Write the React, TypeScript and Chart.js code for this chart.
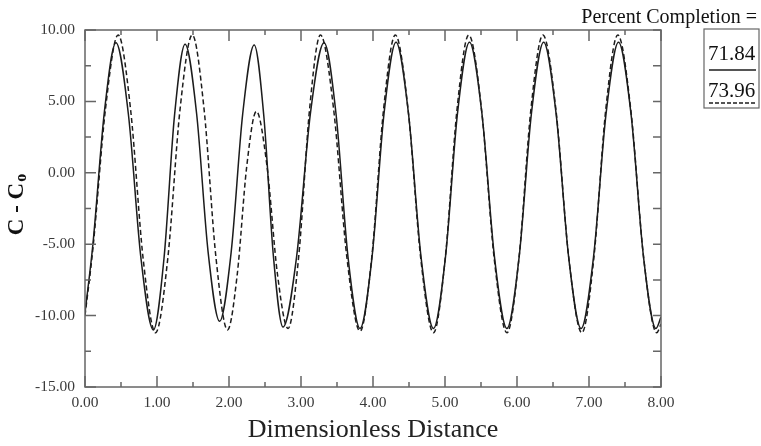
import React, { useEffect, useRef } from 'react';
import { Chart, registerables } from 'chart.js';

Chart.register(...registerables);

// ---- data ----
const solidX = [0, 0.11, 0.27, 0.43, 0.603, 0.777, 0.95, 1.097, 1.243, 1.39, 1.55, 1.71, 1.87, 2.03, 2.19, 2.35, 2.483, 2.617, 2.75, 2.94, 3.13, 3.32, 3.487, 3.653, 3.82, 3.987, 4.153, 4.32, 4.493, 4.667, 4.84, 5.007, 5.173, 5.34, 5.513, 5.687, 5.86, 6.03, 6.2, 6.37, 6.543, 6.717, 6.89, 7.063, 7.237, 7.41, 7.583, 7.757, 7.93, 8.0];
const solidY = [-9.8, -5.0, 4.3, 9.1, 4.08, -5.98, -11.0, -6.0, 4.0, 9.0, 4.15, -5.55, -10.4, -5.56, 4.11, 8.95, 4.01, -5.86, -10.8, -5.83, 4.13, 9.1, 4.1, -5.9, -10.9, -5.89, 4.14, 9.15, 4.14, -5.89, -10.9, -5.89, 4.14, 9.15, 4.14, -5.89, -10.9, -5.89, 4.14, 9.15, 4.14, -5.89, -10.9, -5.89, 4.14, 9.15, 4.14, -5.89, -10.9, -10.1];

const dashedX = [0, 0.11, 0.285, 0.46, 0.633, 0.807, 0.98, 1.15, 1.32, 1.49, 1.653, 1.817, 1.98, 2.113, 2.247, 2.38, 2.527, 2.673, 2.82, 2.97, 3.12, 3.27, 3.453, 3.637, 3.82, 3.983, 4.147, 4.31, 4.487, 4.663, 4.84, 5.003, 5.167, 5.33, 5.507, 5.683, 5.86, 6.027, 6.193, 6.36, 6.54, 6.72, 6.9, 7.067, 7.233, 7.4, 7.58, 7.76, 7.94, 8.0];
const dashedY = [-10.0, -5.3, 4.5, 9.65, 4.44, -5.99, -11.2, -5.99, 4.44, 9.65, 4.49, -5.84, -11.0, -7.18, 0.48, 4.3, 0.5, -7.1, -10.9, -5.76, 4.51, 9.65, 4.46, -5.91, -11.1, -5.91, 4.46, 9.65, 4.44, -5.99, -11.2, -5.99, 4.44, 9.65, 4.44, -5.99, -11.2, -5.99, 4.44, 9.65, 4.44, -5.99, -11.2, -5.99, 4.44, 9.65, 4.44, -5.99, -11.2, -10.6];

const seriesLabels = ['71.84', '73.96'];
const xTicks = [0, 1, 2, 3, 4, 5, 6, 7, 8];
const xMinorTicks = [0.5, 1.5, 2.5, 3.5, 4.5, 5.5, 6.5, 7.5];
const yTicks = [-15, -10, -5, 0, 5, 10];
const yMinorTicks = [-12.5, -7.5, -2.5, 2.5, 7.5];
const xTitle = 'Dimensionless Distance';
const yTitleMain = 'C - C';
const yTitleSub = 'o';
const legendTitle = 'Percent Completion =';

const SERIF = "'Liberation Serif', 'Times New Roman', serif";
const AXIS_COLOR = '#666666';
const LINE_COLOR = '#1c1c1c';

const framePlugin = {
  id: 'frame',
  afterDraw(chart: any) {
    const { ctx, chartArea: a } = chart;
    const xs = chart.scales.x;
    const ys = chart.scales.y;
    ctx.save();
    // frame
    ctx.strokeStyle = AXIS_COLOR;
    ctx.lineWidth = 1.5;
    ctx.strokeRect(a.left, a.top, a.right - a.left, a.bottom - a.top);
    // inward ticks
    ctx.beginPath();
    const seg = (x1: number, y1: number, x2: number, y2: number) => {
      ctx.moveTo(x1, y1);
      ctx.lineTo(x2, y2);
    };
    xTicks.forEach((v) => {
      const p = xs.getPixelForValue(v);
      seg(p, a.bottom, p, a.bottom - 11);
      seg(p, a.top, p, a.top + 11);
    });
    xMinorTicks.forEach((v) => {
      const p = xs.getPixelForValue(v);
      seg(p, a.bottom, p, a.bottom - 5);
      seg(p, a.top, p, a.top + 5);
    });
    yTicks.forEach((v) => {
      const p = ys.getPixelForValue(v);
      seg(a.left, p, a.left + 11, p);
      seg(a.right, p, a.right - 8, p);
    });
    yMinorTicks.forEach((v) => {
      const p = ys.getPixelForValue(v);
      seg(a.left, p, a.left + 6, p);
      seg(a.right, p, a.right - 8, p);
    });
    ctx.stroke();

    // y axis title (rotated, with subscript)
    const cy = (a.top + a.bottom) / 2 - 4;
    ctx.save();
    ctx.translate(23, cy);
    ctx.rotate(-Math.PI / 2);
    ctx.fillStyle = '#111';
    ctx.textBaseline = 'alphabetic';
    ctx.textAlign = 'left';
    ctx.font = `bold 23px ${SERIF}`;
    const wMain = ctx.measureText(yTitleMain).width;
    ctx.font = `bold 16px ${SERIF}`;
    const wSub = ctx.measureText(yTitleSub).width;
    const start = -(wMain + wSub + 1) / 2;
    ctx.font = `bold 23px ${SERIF}`;
    ctx.fillText(yTitleMain, start, 0);
    ctx.font = `bold 16px ${SERIF}`;
    ctx.fillText(yTitleSub, start + wMain + 1, 3);
    ctx.restore();

    // legend
    ctx.fillStyle = '#111';
    ctx.font = `20px ${SERIF}`;
    ctx.textAlign = 'right';
    ctx.textBaseline = 'alphabetic';
    ctx.fillText(legendTitle, 757, 23);

    const bx = 704, by = 29, bw = 55, bh = 79;
    ctx.strokeStyle = AXIS_COLOR;
    ctx.lineWidth = 1.2;
    ctx.strokeRect(bx, by, bw, bh);
    const ds = chart.data.datasets;
    const rows = [
      { textY: 60, lineY: 70 },
      { textY: 97, lineY: 103 },
    ];
    ds.forEach((d: any, i: number) => {
      const r = rows[i];
      ctx.fillStyle = '#111';
      ctx.font = `21px ${SERIF}`;
      ctx.textAlign = 'center';
      ctx.fillText(d.label, bx + bw / 2, r.textY);
      ctx.beginPath();
      ctx.strokeStyle = d.borderColor;
      ctx.lineWidth = 1.4;
      ctx.setLineDash(i === 1 ? [4, 2] : []);
      ctx.moveTo(bx + 5, r.lineY);
      ctx.lineTo(bx + bw - 3, r.lineY);
      ctx.stroke();
      ctx.setLineDash([]);
    });
    ctx.restore();
  },
};

export default function App() {
  const ref = useRef<HTMLCanvasElement | null>(null);

  useEffect(() => {
    document.body.style.margin = '0';
    const canvas = ref.current;
    if (!canvas) return;
    const toPoints = (xs: number[], ys: number[]) => xs.map((x, i) => ({ x, y: ys[i] }));
    const chart = new Chart(canvas, {
      type: 'line',
      data: {
        datasets: [
          {
            label: seriesLabels[0],
            data: toPoints(solidX, solidY),
            borderColor: LINE_COLOR,
            borderWidth: 1.5,
            pointRadius: 0,
            cubicInterpolationMode: 'monotone',
            fill: false,
          },
          {
            label: seriesLabels[1],
            data: toPoints(dashedX, dashedY),
            borderColor: LINE_COLOR,
            borderWidth: 1.5,
            borderDash: [5, 3],
            pointRadius: 0,
            cubicInterpolationMode: 'monotone',
            fill: false,
          },
        ],
      },
      options: {
        responsive: false,
        animation: false,
        events: [],
        layout: { padding: { top: 30, right: 100, bottom: 0, left: 0 } },
        plugins: {
          legend: { display: false },
          title: { display: false },
          tooltip: { enabled: false },
        },
        scales: {
          x: {
            type: 'linear',
            min: 0,
            max: 8,
            afterBuildTicks: (s: any) => {
              s.ticks = xTicks.map((v) => ({ value: v }));
            },
            afterFit: (s: any) => {
              s.height = 59;
            },
            grid: { display: false, drawTicks: false },
            border: { display: false },
            ticks: {
              padding: 7,
              color: '#3a3a3a',
              font: { family: SERIF, size: 15.5 },
              maxRotation: 0,
              autoSkip: false,
              callback: (v: any) => Number(v).toFixed(2),
            },
            title: {
              display: true,
              text: xTitle,
              color: '#222',
              font: { family: SERIF, size: 26 },
              padding: { top: 0, bottom: 0 },
            },
          },
          y: {
            type: 'linear',
            min: -15,
            max: 10,
            afterBuildTicks: (s: any) => {
              s.ticks = yTicks.map((v) => ({ value: v }));
            },
            afterFit: (s: any) => {
              s.width = 85;
            },
            grid: { display: false, drawTicks: false },
            border: { display: false },
            ticks: {
              padding: 10,
              color: '#3a3a3a',
              font: { family: SERIF, size: 15.5 },
              autoSkip: false,
              callback: (v: any) => Number(v).toFixed(2),
            },
          },
        },
      },
      plugins: [framePlugin],
    } as any);
    return () => chart.destroy();
  }, []);

  return (
    <div style={{ width: 761, height: 446 }}>
      <canvas ref={ref} width={761} height={446} style={{ display: 'block', width: 761, height: 446 }} />
    </div>
  );
}
